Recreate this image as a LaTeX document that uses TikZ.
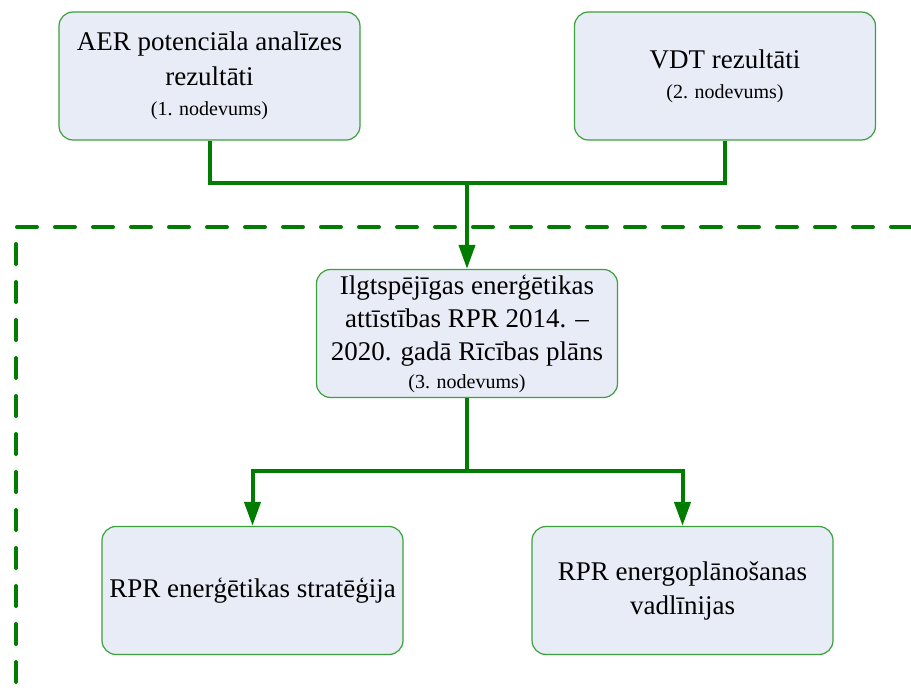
\documentclass[tikz,border=0pt]{standalone}
\usepackage{fontspec}
\setmainfont{Liberation Serif}
\usetikzlibrary{arrows.meta}
\definecolor{flowgreen}{RGB}{0,125,0}
\definecolor{boxedge}{RGB}{60,160,60}
\definecolor{boxfill}{RGB}{231,236,246}
\tikzset{
  card/.style={draw=boxedge, line width=1.2pt, fill=boxfill, rounded corners=14pt,
    minimum width=301pt, minimum height=128pt, align=center, inner sep=2pt,
    font=\fontsize{27}{33}\selectfont},
  flow/.style={draw=flowgreen, line width=4pt, line join=miter},
  flowarrow/.style={flow, -{Triangle[length=24pt,width=16pt]}},
  border/.style={draw=flowgreen, line width=4pt, dash pattern=on 20pt off 18pt, line cap=round},
}
\newcommand{\deliv}[1]{{\fontsize{20}{24}\selectfont #1}}
\begin{document}
\begin{tikzpicture}[x=1pt,y=-1pt]
  \useasboundingbox (0,0) rectangle (911,695);
  % dashed frame of the planning area
  \coordinate (fa) at (16,682);
  \coordinate (fb) at (16,227);
  \coordinate (fc) at (911,227);
  \draw[border] (fa) -- (fb) -- (fc);

  % input boxes
  \node[card] (aer) at (209.5,76) {AER potenciāla analīzes\\[2pt]rezultāti\\[-3pt]\deliv{(1. nodevums)}};
  \node[card] (vdt) at (725,76) {VDT rezultāti\\[-3pt]\deliv{(2. nodevums)}};

  % action plan
  \node[card] (plan) at (467,333.5) {Ilgtspējīgas enerģētikas\\attīstības RPR 2014. –\\2020. gadā Rīcības plāns\\[-5pt]\deliv{(3. nodevums)}};

  % outputs
  \node[card] (strat) at (252.5,590.5) {RPR enerģētikas stratēģija};
  \node[card] (vadl) at (682.5,590.5) {RPR energoplānošanas\\[1pt]vadlīnijas};

  % merging the inputs
  \coordinate (jin) at (plan.north |- 0,183);
  \draw[flow] (aer.south) |- (jin) -| (vdt.south);
  \draw[flowarrow] (jin) -- (plan.north);

  % splitting to the outputs
  \coordinate (jout) at (plan.south |- 0,471);
  \draw[flowarrow] (plan.south) -- (jout) -| (strat.north);
  \draw[flowarrow] (jout) -| (vadl.north);
\end{tikzpicture}
\end{document}
